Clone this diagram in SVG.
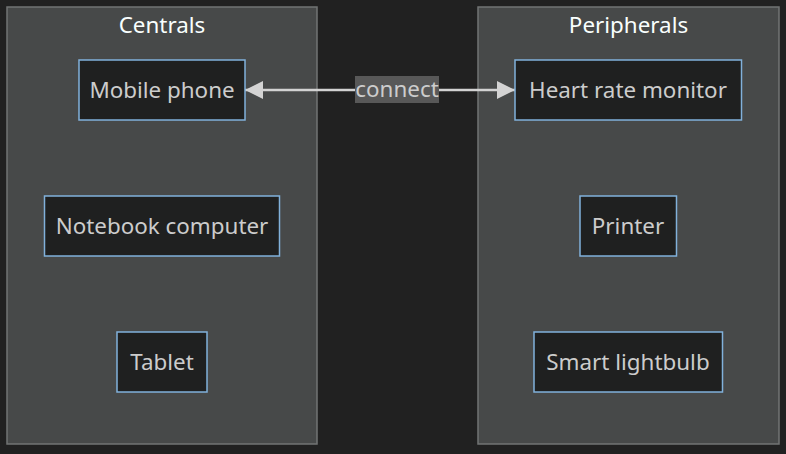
<svg xmlns="http://www.w3.org/2000/svg" width="786" height="454" viewBox="0 0 786 454">
<defs>
<style>
text{font-family:"Noto Sans","DejaVu Sans",sans-serif;font-size:22.4px;text-anchor:middle;dominant-baseline:central}
.cluster{fill:#474949;stroke:#727474;stroke-width:1.5}
.title{fill:#f9fffe}
.node rect{fill:#1f2020;stroke:#81b1db;stroke-width:1.5}
.node text{fill:#cccccc}
.edge{stroke:#d3d3d3;stroke-width:2.4;fill:none}
.lbl{fill:#585858}
.lbltxt{fill:#cccccc}
</style>
<marker id="arrEnd" viewBox="0 0 18 18" refX="18" refY="9" markerUnits="userSpaceOnUse" markerWidth="18" markerHeight="18" orient="auto">
<path d="M0,0 L18,9 L0,18 z" fill="#d3d3d3"/>
</marker>
<marker id="arrStart" viewBox="0 0 18 18" refX="0" refY="9" markerUnits="userSpaceOnUse" markerWidth="18" markerHeight="18" orient="auto">
<path d="M18,0 L0,9 L18,18 z" fill="#d3d3d3"/>
</marker>
</defs>
<rect x="0" y="0" width="786" height="454" fill="#212121"/>
<g id="cluster-centrals">
<rect class="cluster" x="7" y="7" width="310" height="437"/>
<text class="title" x="162" y="24">Centrals</text>
</g>
<g id="cluster-peripherals">
<rect class="cluster" x="478" y="7" width="301" height="437"/>
<text class="title" x="628.5" y="24">Peripherals</text>
</g>
<g id="connectors">
<path class="edge" d="M245,90 L515,90" marker-start="url(#arrStart)" marker-end="url(#arrEnd)"/>
<rect class="lbl" x="355" y="76" width="84" height="27"/>
<text class="lbltxt" x="397" y="88.5">connect</text>
</g>
<g id="node-mobile" class="node">
<rect x="79" y="60" width="166" height="60"/>
<text x="162" y="89">Mobile phone</text>
</g>
<g id="node-notebook" class="node">
<rect x="44.5" y="196" width="235" height="60"/>
<text x="162" y="225">Notebook computer</text>
</g>
<g id="node-tablet" class="node">
<rect x="117" y="332" width="90" height="60"/>
<text x="162" y="361">Tablet</text>
</g>
<g id="node-heart" class="node">
<rect x="515" y="60" width="226.5" height="60"/>
<text x="628" y="89">Heart rate monitor</text>
</g>
<g id="node-printer" class="node">
<rect x="580" y="196" width="96.5" height="60"/>
<text x="628" y="225">Printer</text>
</g>
<g id="node-lightbulb" class="node">
<rect x="534" y="332" width="188.5" height="60"/>
<text x="628" y="361">Smart lightbulb</text>
</g>
</svg>
